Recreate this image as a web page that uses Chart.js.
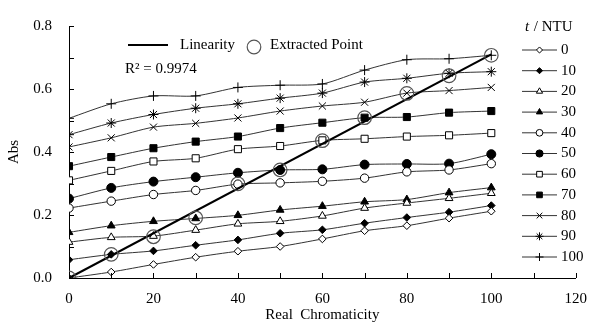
<!DOCTYPE html>
<html>
<head>
<meta charset="utf-8">
<script src="https://cdn.jsdelivr.net/npm/chart.js@4/dist/chart.umd.min.js"></script>
<style>
  html, body { margin: 0; padding: 0; background: #fff; }
  #wrap { width: 599px; height: 324px; }
</style>
</head>
<body>
<div id="wrap"><canvas id="chart"></canvas></div>
<script>
// real chromaticity (x) and measured absorbance per turbidity
var chromaticity = [0, 10, 20, 30, 40, 50, 60, 70, 80, 90, 100];
var turbidity = ['0', '10', '20', '30', '40', '50', '60', '70', '80', '90', '100'];

var abs0   = [0.000, 0.019, 0.043, 0.066, 0.085, 0.100, 0.124, 0.150, 0.166, 0.190, 0.212];
var abs10  = [0.058, 0.075, 0.086, 0.104, 0.121, 0.142, 0.153, 0.174, 0.192, 0.209, 0.230];
var abs20  = [0.114, 0.129, 0.133, 0.152, 0.172, 0.180, 0.197, 0.222, 0.238, 0.253, 0.269];
var abs30  = [0.145, 0.166, 0.180, 0.189, 0.199, 0.216, 0.228, 0.242, 0.249, 0.271, 0.287];
var abs40  = [0.222, 0.244, 0.265, 0.278, 0.298, 0.302, 0.307, 0.317, 0.337, 0.343, 0.363];
var abs50  = [0.252, 0.286, 0.306, 0.320, 0.334, 0.343, 0.345, 0.360, 0.362, 0.363, 0.393];
var abs60  = [0.310, 0.340, 0.370, 0.380, 0.409, 0.419, 0.437, 0.442, 0.449, 0.453, 0.460];
var abs70  = [0.355, 0.384, 0.412, 0.433, 0.449, 0.476, 0.493, 0.509, 0.511, 0.525, 0.530];
var abs80  = [0.416, 0.445, 0.479, 0.491, 0.508, 0.530, 0.546, 0.558, 0.587, 0.595, 0.605];
var abs90  = [0.455, 0.492, 0.519, 0.539, 0.553, 0.571, 0.587, 0.622, 0.634, 0.650, 0.655];
var abs100 = [0.507, 0.553, 0.578, 0.578, 0.605, 0.612, 0.616, 0.660, 0.693, 0.696, 0.707];

// extracted point for each turbidity (on the diagonal)
var extracted = [0.000, 0.075, 0.131, 0.191, 0.299, 0.343, 0.436, 0.509, 0.586, 0.642, 0.707];

// linearity fit line
var linX = [0, 100];
var linY = [0, 0.71];

var allAbs = [abs0, abs10, abs20, abs30, abs40, abs50, abs60, abs70, abs80, abs90, abs100];

var markers = [
  { style: 'rectRot', r: 3.8, fill: '#fff' },
  { style: 'rectRot', r: 3.8, fill: '#000' },
  { style: 'triangle', r: 4.5, fill: '#fff' },
  { style: 'triangle', r: 4.5, fill: '#000' },
  { style: 'circle', r: 4.2, fill: '#fff' },
  { style: 'circle', r: 4.5, fill: '#000' },
  { style: 'rect', r: 5, fill: '#fff' },
  { style: 'rect', r: 5, fill: '#000' },
  { style: 'crossRot', r: 5, fill: '#000' },
  { style: 'star', r: 5, fill: '#000' },
  { style: 'cross', r: 5, fill: '#000' }
];

var FONT = 'Liberation Serif';

function toPoints(xs, ys) {
  return xs.map(function(x, i) { return { x: x, y: ys[i] }; });
}

var datasets = [];

datasets.push({
  label: 'Extracted Point',
  data: toPoints(chromaticity, extracted),
  showLine: false,
  pointStyle: 'circle',
  pointRadius: 6.8,
  pointBorderColor: '#555',
  pointBackgroundColor: 'rgba(0,0,0,0)',
  pointBorderWidth: 1.2,
  order: 0
});

datasets.push({
  label: 'Linearity',
  data: toPoints(linX, linY),
  showLine: true,
  borderColor: '#000',
  borderWidth: 2.2,
  pointRadius: 0,
  order: 1
});

allAbs.forEach(function(vals, i) {
  var m = markers[i];
  datasets.push({
    label: turbidity[i],
    data: toPoints(chromaticity, vals),
    showLine: true,
    borderColor: '#333',
    borderWidth: 1,
    tension: 0.25,
    pointStyle: m.style,
    pointRadius: m.r,
    pointBackgroundColor: m.fill,
    pointBorderColor: '#000',
    pointBorderWidth: 1,
    order: 2
  });
});

var tickPlugin = {
  id: 'inTicks',
  afterDraw: function(chart) {
    var ctx = chart.ctx;
    var xs = chart.scales.x, ys = chart.scales.y;
    var area = chart.chartArea;
    ctx.save();
    ctx.strokeStyle = '#000';
    ctx.lineWidth = 1;
    ctx.beginPath();
    for (var v = 0; v <= 120; v += 10) {
      var px = Math.round(xs.getPixelForValue(v)) + 0.5;
      ctx.moveTo(px, area.bottom);
      ctx.lineTo(px, area.bottom - 5);
    }
    for (var k = 0; k <= 8; k++) {
      var py = Math.round(ys.getPixelForValue(k / 10)) + 0.5;
      ctx.moveTo(area.left, py);
      ctx.lineTo(area.left + 5, py);
    }
    ctx.stroke();
    ctx.restore();
  }
};

function marker(ctx, style, r, fill, x, y) {
  ctx.fillStyle = fill;
  ctx.strokeStyle = '#000';
  ctx.lineWidth = 1;
  if (Chart.helpers && Chart.helpers.drawPoint) {
    Chart.helpers.drawPoint(ctx, { pointStyle: style, radius: r, rotation: 0, borderWidth: 1 }, x, y);
  } else {
    ctx.beginPath();
    ctx.arc(x, y, r, 0, Math.PI * 2);
    ctx.fill();
    ctx.stroke();
  }
}

var legendPlugin = {
  id: 'customLegend',
  afterDraw: function(chart) {
    var ctx = chart.ctx;
    ctx.save();
    ctx.textBaseline = 'middle';
    ctx.fillStyle = '#000';

    // top legend
    ctx.strokeStyle = '#000';
    ctx.lineWidth = 2.2;
    ctx.beginPath();
    ctx.moveTo(128, 45);
    ctx.lineTo(168, 45);
    ctx.stroke();
    ctx.font = '15px "' + FONT + '"';
    ctx.fillText('Linearity', 180, 45);
    ctx.lineWidth = 1.2;
    ctx.strokeStyle = '#555';
    ctx.beginPath();
    ctx.arc(254, 47, 6.8, 0, Math.PI * 2);
    ctx.stroke();
    ctx.fillText('Extracted Point', 270, 45);
    ctx.fillText('R\u00B2 = 0.9974', 125, 69);

    // turbidity legend
    ctx.font = 'italic 15px "' + FONT + '"';
    ctx.fillText('t', 525, 27);
    ctx.font = '15px "' + FONT + '"';
    ctx.fillText(' / NTU', 530, 27);

    for (var i = 0; i < turbidity.length; i++) {
      var y = 50 + i * 20.7;
      ctx.strokeStyle = '#333';
      ctx.lineWidth = 1;
      ctx.beginPath();
      ctx.moveTo(522, y);
      ctx.lineTo(557, y);
      ctx.stroke();
      var m = markers[i];
      marker(ctx, m.style, m.r * 0.8, m.fill, 539.5, y);
      ctx.fillStyle = '#000';
      ctx.fillText(turbidity[i], 561, y);
    }
    ctx.restore();
  }
};

new Chart(document.getElementById('chart'), {
  type: 'scatter',
  data: { datasets: datasets },
  options: {
    responsive: true,
    maintainAspectRatio: false,
    animation: false,
    layout: { padding: { top: 18, right: 13, left: 0, bottom: 0 } },
    plugins: {
      legend: { display: false },
      tooltip: { enabled: false }
    },
    scales: {
      x: {
        type: 'linear',
        min: 0,
        max: 120,
        afterFit: function(s) { s.height = 46; },
        ticks: { stepSize: 20, color: '#000', padding: 12, font: { family: FONT, size: 15 } },
        grid: { drawOnChartArea: false, drawTicks: false },
        border: { color: '#000', width: 1 },
        title: { display: true, text: 'Real  Chromaticity', color: '#000', padding: { top: 0, bottom: 0 }, font: { family: FONT, size: 15 } }
      },
      y: {
        type: 'linear',
        min: 0,
        max: 0.8,
        afterFit: function(s) { s.width = 69; },
        ticks: {
          stepSize: 0.2,
          color: '#000',
          padding: 17,
          font: { family: FONT, size: 15 },
          callback: function(v) { return v.toFixed(1); }
        },
        grid: { drawOnChartArea: false, drawTicks: false },
        border: { color: '#000', width: 1 },
        title: { display: true, text: 'Abs', color: '#000', padding: { top: 5, bottom: 0 }, font: { family: FONT, size: 15 } }
      }
    }
  },
  plugins: [tickPlugin, legendPlugin]
});
</script>
</body>
</html>
